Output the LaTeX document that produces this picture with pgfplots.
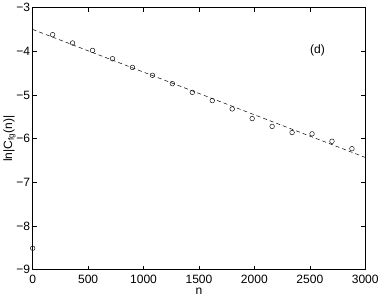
\documentclass[border=0pt]{standalone}
\usepackage{fontspec}
\setmainfont{Liberation Sans}
\usepackage{pgfplots}
\pgfplotsset{compat=1.18}

\begin{document}
\begin{tikzpicture}
  \begin{axis}[
    width=330bp, height=260bp, scale only axis,
    xmin=0, xmax=3000, ymin=-9, ymax=-3,
    xtick={0,500,...,3000},
    ytick={-9,-8,...,-3},
    yticklabels={−9,−8,−7,−6,−5,−4,−3},
    /pgf/number format/assume math mode=true,
    /pgf/number format/1000 sep={},
    scaled x ticks=false,
    tick align=inside,
    major tick length=4bp,
    tick style={black, line width=0.5pt},
    axis line style={black, line width=0.6pt},
    tick label style={font=\fontsize{12}{14}\selectfont},
    xticklabel style={yshift=-2bp},
    yticklabel style={xshift=1bp},
    label style={font=\fontsize{12}{14}\selectfont},
    xlabel={n},
    ylabel={ln|C\textsubscript{fg}(n)|},
    xlabel style={yshift=3bp},
    ylabel style={yshift=-6bp},
    clip=false,
  ]
    % fitted line
    \addplot[black, line width=0.5pt, dash pattern=on 4bp off 3bp] coordinates {
      (0,-3.50) (3000,-6.43)
    };
    % data
    \addplot[only marks, mark=o, mark size=2.3bp, mark options={black, line width=0.45pt}] coordinates {
      (0,-8.51)
      (180,-3.62) (360,-3.81) (540,-3.98) (720,-4.17) (900,-4.37)
      (1080,-4.55) (1260,-4.74) (1440,-4.94) (1620,-5.13) (1800,-5.32)
      (1980,-5.54) (2160,-5.72) (2340,-5.86) (2520,-5.89) (2700,-6.06)
      (2880,-6.23)
    };
    \node[font=\fontsize{12}{14}\selectfont] at (axis cs:2570,-3.99) {(d)};
  \end{axis}
\end{tikzpicture}
\end{document}
